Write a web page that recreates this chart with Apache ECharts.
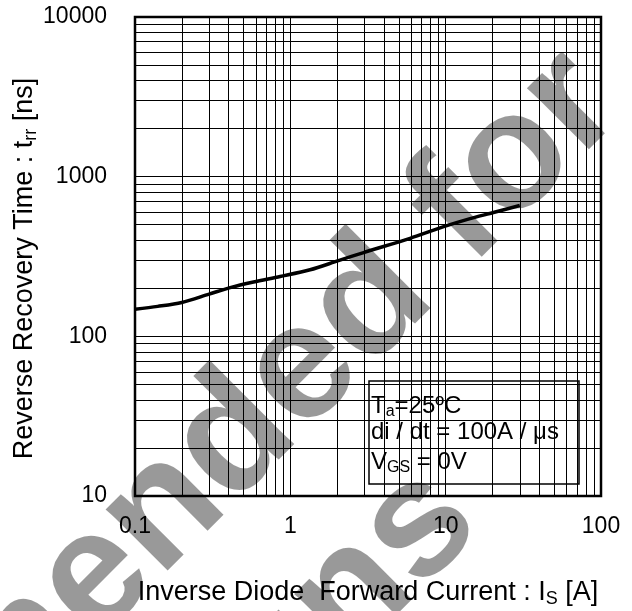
<!DOCTYPE html>
<html>
<head>
<meta charset="utf-8">
<title>Reverse Recovery Time vs Inverse Diode Forward Current</title>
<script src="https://cdn.jsdelivr.net/npm/echarts@6/dist/echarts.min.js"></script>
<style>
  html, body { margin: 0; padding: 0; background: #fff; }
  #chart { width: 632px; height: 611px; }
</style>
</head>
<body>
<div id="chart"></div>
<script>
// Is [A] vs trr [ns]
var current = [0.1, 0.14, 0.2, 0.3, 0.41, 0.58, 0.86, 1.34, 2.04, 3.0, 5.9, 9.7, 14, 20.3, 30];
var trr = [148, 154, 163, 184, 202, 219, 237, 261, 298, 336, 411, 486, 542, 596, 660];

// decades and the 2..9 steps used for the log grid lines
var xDecades = [0.1, 1, 10];
var yDecades = [10, 100, 1000];
var steps = [2, 3, 4, 5, 6, 7, 8, 9];

var font = "'Liberation Sans', Arial, sans-serif";

function minorValues(decades) {
  var out = [];
  decades.forEach(function (d) {
    steps.forEach(function (s) {
      out.push(+(d * s).toPrecision(3));
    });
  });
  return out;
}

var gridLines = minorValues(xDecades).map(function (v) { return { xAxis: v }; })
  .concat(minorValues(yDecades).map(function (v) { return { yAxis: v }; }));

var subRich = {
  m: { fontSize: 27, lineHeight: 30, color: "#000", fontFamily: font },
  s: { fontSize: 18, lineHeight: 14, verticalAlign: "bottom", color: "#000", fontFamily: font }
};

var chart = echarts.init(document.getElementById("chart"));

var option = {
  animation: false,
  grid: {
    show: true,
    left: 135,
    right: 31,
    top: 17,
    bottom: 115,
    containLabel: false,
    outerBoundsMode: "none",
    borderColor: "#000",
    borderWidth: 2.5,
    backgroundColor: "transparent"
  },
  xAxis: {
    type: "log",
    logBase: 10,
    min: 0.1,
    max: 100,
    axisLine: { show: false },
    axisTick: { show: false },
    splitLine: { show: true, lineStyle: { color: "#000", width: 1 } },
    axisLabel: {
      color: "#000", fontSize: 23, fontFamily: font, margin: 19,
      formatter: function (v) { return String(+v.toPrecision(3)); }
    },
    name: "{m|Inverse Diode  Forward Current : I}{s|S}{m| [A]}",
    nameLocation: "middle",
    nameGap: 82,
    nameTextStyle: { color: "#000", fontFamily: font, rich: subRich }
  },
  yAxis: {
    type: "log",
    logBase: 10,
    min: 10,
    max: 10000,
    axisLine: { show: false },
    axisTick: { show: false },
    splitLine: { show: true, lineStyle: { color: "#000", width: 1 } },
    axisLabel: {
      color: "#000", fontSize: 23, fontFamily: font, margin: 28,
      formatter: function (v) { return String(+v.toPrecision(3)); }
    },
    name: "{m|Reverse Recovery Time : t}{s|rr}{m| [ns]}",
    nameLocation: "middle",
    nameMoveOverlap: false,
    nameGap: 95,
    nameTextStyle: { color: "#000", fontFamily: font, padding: [0, 24, 0, 0], rich: subRich }
  },
  series: [
    {
      type: "line",
      data: current.map(function (x, i) { return [x, trr[i]]; }),
      smooth: 0.3,
      symbol: "none",
      lineStyle: { color: "#000", width: 3.5 },
      z: 5,
      markLine: {
        silent: true,
        symbol: ["none", "none"],
        label: { show: false },
        lineStyle: { color: "#000", width: 1, type: "solid" },
        emphasis: { disabled: true },
        data: gridLines,
        z: 1
      }
    }
  ],
  graphic: [
    {
      type: "group",
      x: 369,
      y: 381,
      z: 50,
      children: [
        {
          type: "rect",
          shape: { x: 0, y: 0, width: 210, height: 103 },
          style: { fill: "#fff", stroke: "#000", lineWidth: 1.5 }
        },
        {
          type: "text",
          x: 2,
          y: 11,
          style: {
            text: "{m|T}{s|a}{m|=25\u00baC}",
            fill: "#000",
            rich: {
              m: { fontSize: 24, lineHeight: 28, fontFamily: font, fill: "#000" },
              s: { fontSize: 16, lineHeight: 12, verticalAlign: "bottom", fontFamily: font, fill: "#000" }
            }
          }
        },
        {
          type: "text",
          x: 2,
          y: 39,
          style: {
            text: "di / dt = 100A / \u03bcs",
            fill: "#000",
            font: "24px " + font
          }
        },
        {
          type: "text",
          x: 2,
          y: 67,
          style: {
            text: "{m|V}{s|GS}{m| = 0V}",
            fill: "#000",
            rich: {
              m: { fontSize: 24, lineHeight: 28, fontFamily: font, fill: "#000" },
              s: { fontSize: 16, lineHeight: 12, verticalAlign: "bottom", fontFamily: font, fill: "#000" }
            }
          }
        }
      ]
    },
    {
      type: "text",
      x: 594,
      y: 80,
      rotation: Math.PI / 4,
      z: 100,
      silent: true,
      style: {
        text: "Not Recommended for",
        fill: "rgba(0,0,0,0.4)",
        font: "bold 165px " + font,
        align: "right",
        verticalAlign: "middle"
      }
    },
    {
      type: "text",
      x: 452,
      y: 495,
      rotation: Math.PI / 4,
      z: 100,
      silent: true,
      style: {
        text: "New Designs",
        fill: "rgba(0,0,0,0.4)",
        font: "bold 165px " + font,
        align: "right",
        verticalAlign: "middle"
      }
    }
  ]
};

chart.setOption(option);
</script>
</body>
</html>
